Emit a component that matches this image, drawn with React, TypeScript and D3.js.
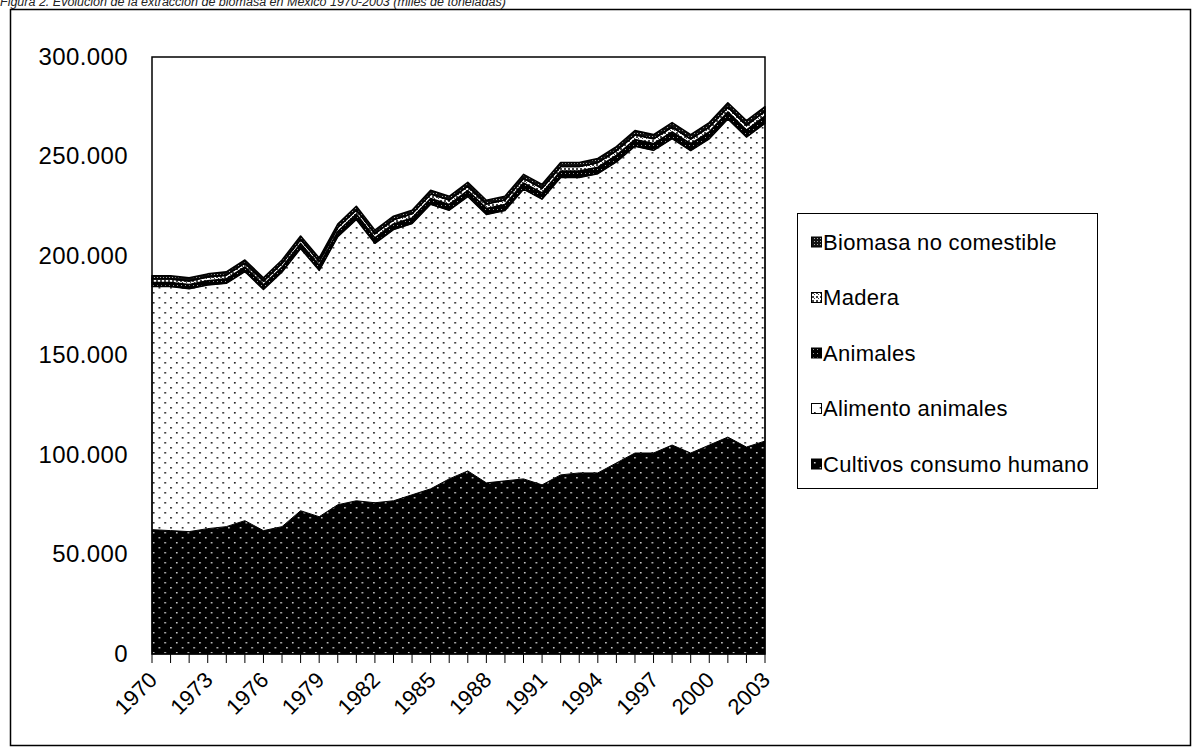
import * as d3 from "d3";

// Extracción de biomasa en México, miles de toneladas
const YEARS = [
  1970, 1971, 1972, 1973, 1974, 1975, 1976, 1977, 1978, 1979, 1980, 1981,
  1982, 1983, 1984, 1985, 1986, 1987, 1988, 1989, 1990, 1991, 1992, 1993,
  1994, 1995, 1996, 1997, 1998, 1999, 2000, 2001, 2002, 2003,
];
const CULTIVOS = [
  62500, 62000, 61500, 63000, 64000, 67000, 62000, 64000, 72000, 69000,
  75000, 77000, 76000, 77000, 80000, 83000, 88000, 92000, 86000, 87000,
  88000, 85000, 90000, 91000, 91000, 96000, 101000, 101000, 105000, 101000,
  105000, 109000, 104000, 107000,
];
const ALIMENTO = [
  122200, 122700, 122100, 122500, 122300, 125200, 121200, 128000, 131800,
  123800, 134700, 141400, 130400, 136300, 136300, 143000, 135000, 137900,
  134900, 135900, 145600, 143600, 149500, 148500, 150400, 151300, 154200,
  152100, 154000, 152000, 153900, 159900, 155800, 159700,
];
const ANIMALES = [
  2000, 2000, 2100, 2100, 2200, 2300, 2300, 2400, 2500, 2500, 2600, 2700,
  2700, 2800, 2800, 2900, 2900, 3000, 3000, 3000, 3100, 3100, 3200, 3200,
  3200, 3300, 3300, 3400, 3400, 3400, 3500, 3500, 3500, 3600,
];
const MADERA = [
  1800, 1800, 1800, 1900, 1900, 1900, 1900, 2000, 2000, 2000, 2000, 2100,
  2100, 2100, 2100, 2200, 2200, 2200, 2200, 2200, 2300, 2300, 2300, 2300,
  2300, 2300, 2400, 2400, 2400, 2400, 2400, 2400, 2400, 2400,
];
const BIOMASA = [
  1500, 1500, 1500, 1500, 1600, 1600, 1600, 1600, 1700, 1700, 1700, 1800,
  1800, 1800, 1800, 1900, 1900, 1900, 1900, 1900, 2000, 2000, 2000, 2000,
  2100, 2100, 2100, 2100, 2200, 2200, 2200, 2200, 2300, 2300,
];
const Y_TICKS = [0, 50000, 100000, 150000, 200000, 250000, 300000];
const X_LABELS = [
  1970, 1973, 1976, 1979, 1982, 1985, 1988, 1991, 1994, 1997, 2000, 2003,
];

const TITLE =
  "Figura 2. Evolución de la extracción de biomasa en México 1970-2003 (miles de toneladas)";

const SERIES = [
  { key: "cultivos", name: "Cultivos consumo humano", values: CULTIVOS, fill: "url(#p-cultivos)" },
  { key: "alimento", name: "Alimento animales", values: ALIMENTO, fill: "url(#p-alimento)" },
  { key: "animales", name: "Animales", values: ANIMALES, fill: "url(#p-animales)" },
  { key: "madera", name: "Madera", values: MADERA, fill: "url(#p-madera)" },
  { key: "biomasa", name: "Biomasa no comestible", values: BIOMASA, fill: "url(#p-biomasa)" },
];

const FONT = "'Liberation Sans', Arial, sans-serif";
const fmt = d3
  .formatLocale({ decimal: ",", thousands: ".", grouping: [3], currency: ["", ""] })
  .format(",");

const W = 1200;
const H = 754;
const plot = { left: 152, right: 765, top: 57, bottom: 654 };

export default function App() {
  const rows = YEARS.map((year, i) => {
    const r: Record<string, number> = { year };
    SERIES.forEach((s) => (r[s.key] = s.values[i]));
    return r;
  });
  const stacked = d3.stack<Record<string, number>>().keys(SERIES.map((s) => s.key))(rows);

  const x = d3.scalePoint<number>().domain(YEARS).range([plot.left, plot.right]);
  const y = d3.scaleLinear().domain([0, 300000]).range([plot.bottom, plot.top]);

  const area = d3
    .area<d3.SeriesPoint<Record<string, number>>>()
    .x((d) => x(d.data.year) as number)
    .y0((d) => y(d[0]))
    .y1((d) => y(d[1]));

  const legendItems = [...SERIES].reverse();

  return (
    <div style={{ position: "absolute", left: 0, top: 0 }}>
      <svg width={W} height={H} style={{ display: "block", fontFamily: FONT }}>
        <defs>
          <pattern id="p-cultivos" patternUnits="userSpaceOnUse" width={11.6} height={10}>
            <rect width={11.6} height={10} fill="#000" />
            <rect x={2} y={2} width={1.5} height={1.5} fill="#ddd" />
            <rect x={7.8} y={7} width={1.5} height={1.5} fill="#ddd" />
          </pattern>
          <pattern id="p-alimento" patternUnits="userSpaceOnUse" width={11.6} height={10}>
            <rect width={11.6} height={10} fill="#fff" />
            <rect x={2} y={2} width={1.6} height={1.6} fill="#111" />
            <rect x={7.8} y={7} width={1.6} height={1.6} fill="#111" />
          </pattern>
          <pattern id="p-animales" patternUnits="userSpaceOnUse" width={4} height={4}>
            <rect width={4} height={4} fill="#000" />
            <rect x={1} y={1} width={1} height={1} fill="#999" />
          </pattern>
          <pattern id="p-madera" patternUnits="userSpaceOnUse" width={4} height={4}>
            <rect width={4} height={4} fill="#fff" />
            <rect x={0} y={0} width={2} height={2} fill="#444" />
            <rect x={2} y={2} width={1} height={1} fill="#444" />
          </pattern>
          <pattern id="p-biomasa" patternUnits="userSpaceOnUse" width={3} height={3}>
            <rect width={3} height={3} fill="#111" />
            <rect x={1} y={1} width={1} height={1} fill="#aaa" />
          </pattern>
        </defs>

        <text x={0} y={6} fontSize={12.5} fontStyle="italic" fill="#222">
          {TITLE}
        </text>

        <rect x={10.5} y={9.5} width={1180} height={736} fill="#fff" stroke="#000" strokeWidth={1.5} />

        {stacked.map((layer, i) => (
          <path
            key={layer.key}
            d={area(layer) ?? ""}
            fill={SERIES[i].fill}
            stroke="#000"
            strokeWidth={i >= 2 ? 1.6 : 1}
            strokeLinejoin="round"
          />
        ))}

        <rect
          x={plot.left}
          y={plot.top}
          width={plot.right - plot.left}
          height={plot.bottom - plot.top}
          fill="none"
          stroke="#000"
          strokeWidth={1.5}
        />

        {Y_TICKS.map((t) => (
          <text
            key={t}
            x={128}
            y={y(t) - 1}
            textAnchor="end"
            dominantBaseline="central"
            fontSize={24}
            letterSpacing={0.4}
            fill="#000"
          >
            {fmt(t)}
          </text>
        ))}

        {YEARS.map((yr) => (
          <line
            key={yr}
            x1={x(yr)}
            x2={x(yr)}
            y1={plot.bottom}
            y2={plot.bottom + 9}
            stroke="#000"
            strokeWidth={1}
          />
        ))}
        {X_LABELS.map((yr) => (
          <text
            key={yr}
            transform={`translate(${(x(yr) as number) + 1},${plot.bottom + 22}) rotate(-45)`}
            textAnchor="end"
            dy="0.35em"
            fontSize={22}
            fill="#000"
          >
            {yr}
          </text>
        ))}

        <rect x={797.5} y={213.5} width={300} height={275} fill="#fff" stroke="#000" strokeWidth={1} />
        {legendItems.map((s, i) => {
          const cy = 242 + i * 55.5;
          return (
            <g key={s.key}>
              <rect x={811.5} y={cy - 5} width={10} height={10} fill={s.fill} stroke="#000" strokeWidth={1} />
              <text x={823} y={cy} dominantBaseline="central" fontSize={22} letterSpacing={0.3} fill="#000">
                {s.name}
              </text>
            </g>
          );
        })}
      </svg>
    </div>
  );
}
